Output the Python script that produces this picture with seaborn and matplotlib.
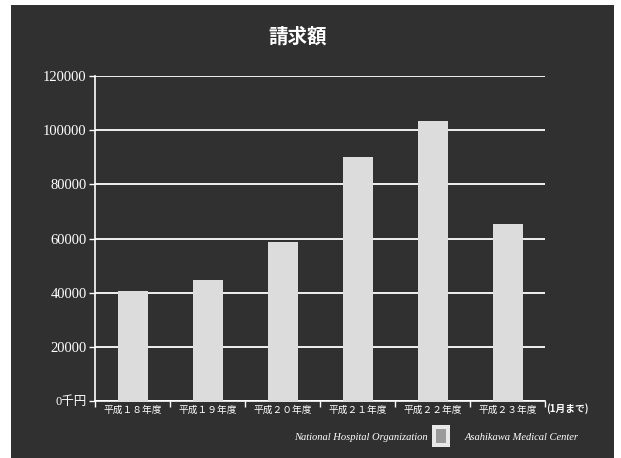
import matplotlib
matplotlib.use("Agg")
import matplotlib.pyplot as plt
import seaborn as sns
import pandas as pd
from matplotlib.patches import Rectangle

categories = ["平成１８年度", "平成１９年度", "平成２０年度", "平成２１年度", "平成２２年度", "平成２３年度"]
values = [40500, 44700, 58800, 90200, 103500, 65200]
ytick_vals = [0, 20000, 40000, 60000, 80000, 100000, 120000]
ytick_labels = ["0千円", "20000", "40000", "60000", "80000", "100000", "120000"]
title = "請求額"
note = "(1月まで)"
footer_left = "National Hospital Organization"
footer_right = "Asahikawa Medical Center"

sns.set_theme(style="dark")
plt.rcParams["font.family"] = ["Noto Sans CJK JP", "DejaVu Sans"]

df = pd.DataFrame({"year": categories, "amount": values})

W, H = 621, 458
fig = plt.figure(figsize=(W / 100, H / 100), dpi=100)
fig.patch.set_facecolor("white")
fig.patches.append(Rectangle((11 / W, 0), 603 / W, (H - 5) / H, transform=fig.transFigure,
                             facecolor="#303030", edgecolor="none", zorder=-10))

ax = fig.add_axes([95 / W, 1 - 401 / H, 450 / W, 325 / H])
ax.set_facecolor("none")
sns.barplot(data=df, x="year", y="amount", color="#dcdcdc", width=0.4,
            saturation=1, linewidth=0, ax=ax, zorder=3)
ax.set_ylim(0, 120000)
ax.set_xlim(-0.5, 5.5)
ax.set_yticks(ytick_vals)
ax.set_yticklabels(ytick_labels)
for lab in ax.get_yticklabels():
    if lab.get_text().endswith("千円"):
        lab.set_fontfamily(["Liberation Serif", "Noto Sans CJK JP"])
        lab.set_fontsize(9)
    else:
        lab.set_fontfamily("Liberation Serif")
        lab.set_fontsize(10.5)
    lab.set_color("white")
ax.yaxis.grid(True, color="white", linewidth=1.3, zorder=1)
ax.xaxis.grid(False)
ax.tick_params(axis="y", length=4, color="white", width=1, pad=2, left=True)
ax.set_xticks(range(len(categories)))
ax.set_xticklabels(categories, fontsize=7, color="white")
ax.tick_params(axis="x", length=0, pad=3)
ax.set_xticks([i - 0.5 for i in range(len(categories) + 1)], minor=True)
ax.tick_params(axis="x", which="minor", length=4, color="white", width=1, bottom=True)
ax.set_xlabel("")
ax.set_ylabel("")
for s in ["top", "right"]:
    ax.spines[s].set_visible(False)
for s in ["left", "bottom"]:
    ax.spines[s].set_visible(True)
    ax.spines[s].set_color("white")
    ax.spines[s].set_linewidth(1.2)

fig.text(298 / W, 1 - 37 / H, title, color="white", fontsize=14, fontweight="bold",
         ha="center", va="center")
fig.text(567 / W, 1 - 409 / H, note, color="white", fontsize=7, fontweight="bold",
         ha="center", va="center")
fig.text(361 / W, 1 - 437 / H, footer_left, color="white", fontsize=7.6, style="italic",
         family="Liberation Serif", ha="center", va="center")
fig.text(522 / W, 1 - 437 / H, footer_right, color="white", fontsize=7.6, style="italic",
         family="Liberation Serif", ha="center", va="center")
fig.patches.append(Rectangle((432 / W, 1 - 447 / H), 18 / W, 22 / H, transform=fig.transFigure,
                             facecolor="#e8e8e8", edgecolor="none"))
fig.patches.append(Rectangle((436 / W, 1 - 443 / H), 10 / W, 14 / H, transform=fig.transFigure,
                             facecolor="#9a9a9a", edgecolor="none"))

fig.savefig("out.png", dpi=100)
